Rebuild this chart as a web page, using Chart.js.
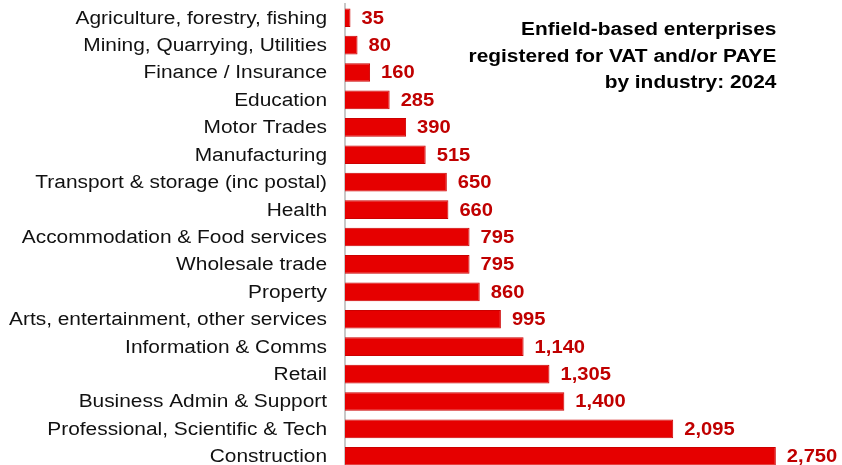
<!DOCTYPE html>
<html>
<head>
<meta charset="utf-8">
<script src="https://cdn.jsdelivr.net/npm/chart.js@4"></script>
<style>
  html, body { margin: 0; padding: 0; background: #fff; overflow: hidden; }
  #wrap { position: relative; width: 842px; height: 470px; }
  #title {
    position: absolute; right: 66px; top: 16px;
    font: bold 18px "Liberation Sans", Arial, sans-serif;
    line-height: 26.5px; text-align: right; color: #000;
    transform: scaleX(1.16); transform-origin: right top;
  }
</style>
</head>
<body>
<div id="wrap">
  <canvas id="chart" width="842" height="470"></canvas>
  <div id="title">Enfield-based enterprises<br>registered for VAT and/or PAYE<br>by industry: 2024</div>
</div>
<script>
// Enfield enterprises by industry, 2024
const industries = [
  'Agriculture, forestry, fishing',
  'Mining, Quarrying, Utilities',
  'Finance / Insurance',
  'Education',
  'Motor Trades',
  'Manufacturing',
  'Transport & storage (inc postal)',
  'Health',
  'Accommodation & Food services',
  'Wholesale trade',
  'Property',
  'Arts, entertainment, other services',
  'Information & Comms',
  'Retail',
  'Business Admin & Support',
  'Professional, Scientific & Tech',
  'Construction'
]
const enterprises = [35, 80, 160, 285, 390, 515, 650, 660, 795, 795, 860, 995, 1140, 1305, 1400, 2095, 2750]

const STRETCH = 1.16

// category labels drawn a bit wider, like the original
const categoryLabels = {
  id: 'categoryLabels',
  afterDraw(chart) {
    const c = chart.ctx
    const y = chart.scales.y
    c.save()
    c.font = '18px "Liberation Sans", Arial, sans-serif'
    c.fillStyle = '#111'
    c.textAlign = 'right'
    c.textBaseline = 'middle'
    c.scale(STRETCH, 1)
    industries.forEach((label, i) => {
      c.fillText(label, 327 / STRETCH, y.getPixelForTick(i) + 1)
    })
    c.restore()
  }
}

// value labels to the right of each bar
const valueLabels = {
  id: 'valueLabels',
  afterDatasetsDraw(chart) {
    const c = chart.ctx
    const meta = chart.getDatasetMeta(0)
    c.save()
    c.font = 'bold 18px "Liberation Sans", Arial, sans-serif'
    c.fillStyle = '#c00000'
    c.textAlign = 'left'
    c.textBaseline = 'middle'
    c.scale(1.12, 1)
    meta.data.forEach((bar, i) => {
      c.fillText(enterprises[i].toLocaleString('en-GB'), (bar.x + 11) / 1.12, bar.y + 1)
    })
    c.restore()
  }
}

new Chart(document.getElementById('chart'), {
  type: 'bar',
  data: {
    labels: industries,
    datasets: [{
      data: enterprises,
      backgroundColor: '#e60000',
      borderColor: '#cc0000',
      borderWidth: 1,
      barPercentage: 0.68,
      categoryPercentage: 1
    }]
  },
  options: {
    indexAxis: 'y',
    responsive: false,
    animation: false,
    layout: { padding: { top: 4, right: 27, bottom: 0, left: 0 } },
    scales: {
      x: {
        display: false,
        min: 0,
        max: 3000
      },
      y: {
        afterFit(scale) {
          scale.width = 345
          scale.paddingTop = 0
          scale.paddingBottom = 0
        },
        grid: { display: false, drawTicks: false },
        border: { display: true, color: '#c8c8c8', width: 2 },
        ticks: { display: false }
      }
    },
    plugins: {
      legend: { display: false },
      tooltip: { enabled: false }
    }
  },
  plugins: [categoryLabels, valueLabels]
})
</script>
</body>
</html>
